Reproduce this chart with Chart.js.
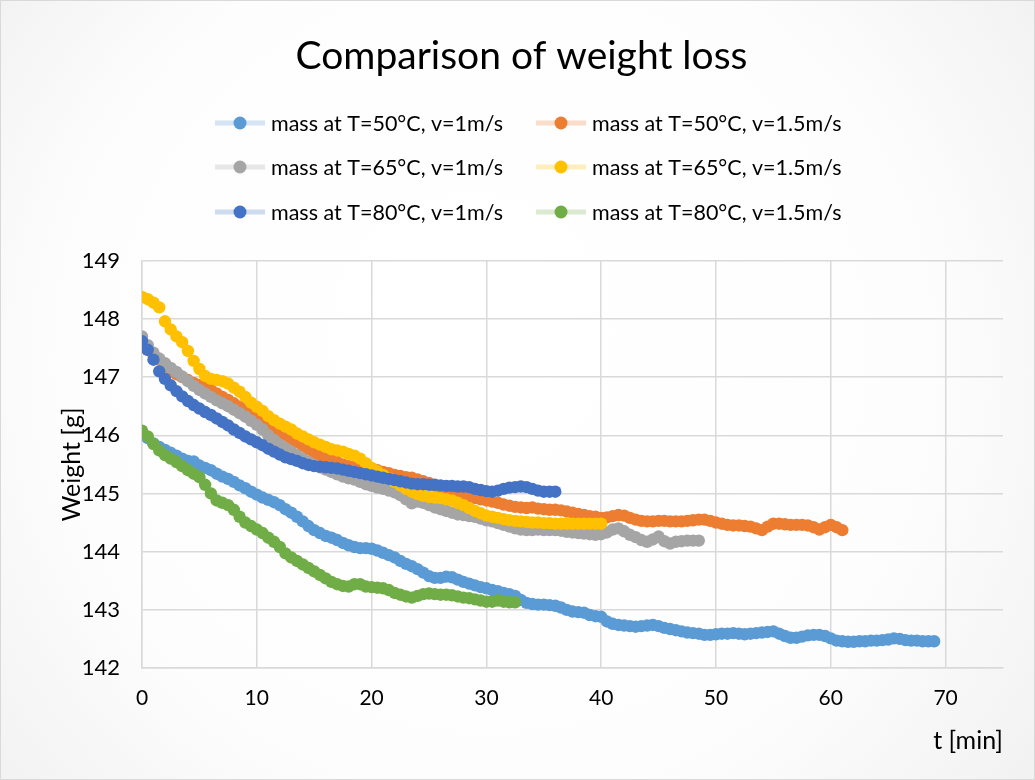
<!DOCTYPE html>
<html>
<head>
<meta charset="utf-8">
<title>Comparison of weight loss</title>
<script src="https://cdn.jsdelivr.net/npm/chart.js@4.4.1/dist/chart.umd.min.js"></script>
<style>
	html, body { margin: 0; padding: 0; background: #fff; }
	#wrap { width: 1035px; height: 780px; }
</style>
</head>
<body>
<div id="wrap"><canvas id="weightChart" width="1035" height="780"></canvas></div>
<script>
// balance read every 30 s -> one value per half minute, starting at t = 0
var step = 0.5;

var labels = [
	'mass at T=50°C, v=1m/s',
	'mass at T=50°C, v=1.5m/s',
	'mass at T=65°C, v=1m/s',
	'mass at T=65°C, v=1.5m/s',
	'mass at T=80°C, v=1m/s',
	'mass at T=80°C, v=1.5m/s'
];
var colors = ['#5B9BD5', '#ED7D31', '#A5A5A5', '#FFC000', '#4472C4', '#70AD47'];
var xTicks = [0, 10, 20, 30, 40, 50, 60, 70];
var yTicks = [142, 143, 144, 145, 146, 147, 148, 149];

// weights in g
var mass50v1 = [
	146.02, 145.95, 145.86, 145.80, 145.75, 145.70, 145.65, 145.60, 145.56, 145.55,
	145.48, 145.44, 145.40, 145.34, 145.29, 145.25, 145.20, 145.14, 145.09, 145.03,
	144.98, 144.93, 144.89, 144.85, 144.80, 144.73, 144.67, 144.60, 144.52, 144.44,
	144.37, 144.32, 144.27, 144.24, 144.20, 144.15, 144.11, 144.08, 144.06, 144.06,
	144.05, 144.02, 143.98, 143.94, 143.90, 143.84, 143.79, 143.75, 143.70, 143.64,
	143.58, 143.55, 143.55, 143.57, 143.56, 143.52, 143.48, 143.45, 143.42, 143.39,
	143.37, 143.34, 143.32, 143.29, 143.27, 143.24, 143.17, 143.12, 143.10, 143.09,
	143.09, 143.08, 143.07, 143.04, 143.00, 142.97, 142.96, 142.95, 142.91, 142.89,
	142.88, 142.80, 142.76, 142.74, 142.73, 142.72, 142.71, 142.72, 142.73, 142.74,
	142.72, 142.69, 142.67, 142.65, 142.63, 142.61, 142.60, 142.59, 142.57, 142.57,
	142.58, 142.59, 142.59, 142.60, 142.59, 142.58, 142.59, 142.60, 142.61, 142.62,
	142.63, 142.59, 142.55, 142.52, 142.52, 142.54, 142.56, 142.57, 142.57, 142.55,
	142.51, 142.47, 142.46, 142.45, 142.45, 142.46, 142.46, 142.47, 142.47, 142.48,
	142.49, 142.51, 142.50, 142.48, 142.47, 142.47, 142.46, 142.46, 142.46
];
var mass50v15 = [
	147.60, 147.47, 147.38, 147.30, 147.22, 147.13, 147.05, 147.00, 146.95, 146.90,
	146.86, 146.82, 146.78, 146.72, 146.66, 146.61, 146.55, 146.49, 146.44, 146.38,
	146.31, 146.24, 146.18, 146.12, 146.06, 146.00, 145.93, 145.88, 145.82, 145.76,
	145.70, 145.66, 145.62, 145.58, 145.54, 145.50, 145.47, 145.46, 145.45, 145.44,
	145.42, 145.40, 145.37, 145.35, 145.32, 145.30, 145.28, 145.27, 145.24, 145.21,
	145.18, 145.13, 145.09, 145.05, 145.03, 145.01, 144.98, 144.95, 144.92, 144.90,
	144.88, 144.86, 144.84, 144.81, 144.79, 144.77, 144.76, 144.75, 144.76, 144.74,
	144.73, 144.72, 144.72, 144.71, 144.69, 144.67, 144.65, 144.63, 144.61, 144.60,
	144.58, 144.59, 144.61, 144.63, 144.62, 144.58, 144.55, 144.53, 144.52, 144.52,
	144.53, 144.53, 144.52, 144.52, 144.52, 144.53, 144.54, 144.55, 144.55, 144.53,
	144.50, 144.48, 144.46, 144.45, 144.45, 144.44, 144.43, 144.40, 144.37, 144.43,
	144.48, 144.48, 144.47, 144.46, 144.46, 144.46, 144.45, 144.42, 144.38, 144.42,
	144.46, 144.42, 144.37
];
var mass65v1 = [
	147.70, 147.55, 147.42, 147.32, 147.24, 147.16, 147.09, 147.01, 146.93, 146.85,
	146.78, 146.72, 146.66, 146.60, 146.55, 146.50, 146.44, 146.38, 146.32, 146.25,
	146.18, 146.10, 146.00, 145.92, 145.84, 145.78, 145.72, 145.66, 145.60, 145.54,
	145.49, 145.45, 145.41, 145.37, 145.33, 145.29, 145.26, 145.24, 145.20, 145.16,
	145.13, 145.10, 145.08, 145.05, 145.02, 144.97, 144.90, 144.83, 144.86, 144.84,
	144.80, 144.76, 144.73, 144.70, 144.67, 144.64, 144.63, 144.61, 144.60, 144.57,
	144.54, 144.52, 144.49, 144.46, 144.43, 144.40, 144.38, 144.37, 144.37, 144.38,
	144.37, 144.37, 144.37, 144.36, 144.34, 144.33, 144.32, 144.31, 144.30, 144.29,
	144.30, 144.33, 144.38, 144.40, 144.35, 144.29, 144.25, 144.20, 144.17, 144.21,
	144.26, 144.18, 144.14, 144.17, 144.18, 144.19, 144.19, 144.19
];
var mass65v15 = [
	148.38, 148.34, 148.28, 148.20, 147.96, 147.82, 147.70, 147.60, 147.45, 147.28,
	147.14, 147.02, 146.97, 146.95, 146.93, 146.89, 146.82, 146.75, 146.66, 146.56,
	146.49, 146.42, 146.33, 146.26, 146.20, 146.15, 146.10, 146.03, 145.98, 145.93,
	145.88, 145.84, 145.80, 145.76, 145.74, 145.72, 145.68, 145.65, 145.60, 145.52,
	145.44, 145.38, 145.32, 145.26, 145.20, 145.14, 145.08, 145.03, 144.99, 144.96,
	144.94, 144.93, 144.92, 144.90, 144.88, 144.84, 144.80, 144.75, 144.70, 144.66,
	144.62, 144.60, 144.58, 144.56, 144.54, 144.53, 144.52, 144.51, 144.50, 144.50,
	144.49, 144.49, 144.48, 144.48, 144.48, 144.48, 144.48, 144.48, 144.48, 144.48,
	144.48
];
var mass80v1 = [
	147.62, 147.47, 147.30, 147.10, 146.97, 146.86, 146.76, 146.67, 146.59, 146.52,
	146.46, 146.40, 146.35, 146.29, 146.23, 146.17, 146.10, 146.04, 145.98, 145.93,
	145.88, 145.83, 145.77, 145.72, 145.67, 145.62, 145.59, 145.56, 145.52, 145.49,
	145.47, 145.46, 145.45, 145.44, 145.43, 145.41, 145.39, 145.37, 145.35, 145.33,
	145.31, 145.29, 145.27, 145.25, 145.23, 145.21, 145.19, 145.17, 145.16, 145.16,
	145.15, 145.15, 145.14, 145.13, 145.13, 145.12, 145.12, 145.11, 145.08, 145.06,
	145.04, 145.03, 145.05, 145.08, 145.10, 145.11, 145.12, 145.11, 145.08, 145.05,
	145.03, 145.03, 145.03
];
var mass80v15 = [
	146.08, 145.98, 145.85, 145.74, 145.66, 145.60, 145.54, 145.47, 145.40, 145.34,
	145.28, 145.15, 145.00, 144.88, 144.84, 144.80, 144.72, 144.60, 144.50, 144.44,
	144.38, 144.32, 144.24, 144.17, 144.08, 143.97, 143.90, 143.84, 143.78, 143.72,
	143.66, 143.60, 143.54, 143.48, 143.44, 143.41, 143.40, 143.44, 143.44, 143.40,
	143.39, 143.38, 143.37, 143.34, 143.29, 143.26, 143.23, 143.21, 143.24, 143.27,
	143.28, 143.27, 143.26, 143.26, 143.25, 143.23, 143.21, 143.20, 143.18, 143.16,
	143.14, 143.14, 143.16, 143.14, 143.13, 143.13
];

var FONT = 'Lato';

function toPoints(values) {
	var pts = [];
	for (var i in values) {
		pts.push({ x: i * step, y: values[i] });
	}
	return pts;
}

function fade(hex, a) {
	var n = parseInt(hex.slice(1), 16);
	return 'rgba(' + (n >> 16) + ',' + ((n >> 8) & 255) + ',' + (n & 255) + ',' + a + ')';
}

var allSeries = [mass50v1, mass50v15, mass65v1, mass65v15, mass80v1, mass80v15];
var datasets = [];
for (var s = 0; s < allSeries.length; s++) {
	datasets.push({
		label: labels[s],
		data: toPoints(allSeries[s]),
		backgroundColor: colors[s],
		borderColor: fade(colors[s], 0.25),
		showLine: false,
		pointRadius: 6.2,
		pointBorderWidth: 0,
		pointHoverRadius: 6.2,
		order: allSeries.length - s   // later series on top
	});
}

// soft grey vignette behind everything + thin frame
var chartBackground = {
	id: 'chartBackground',
	beforeDraw: function(chart) {
		var c = chart.ctx, w = chart.width, h = chart.height;
		var g = c.createRadialGradient(w * 0.45, h * 0.42, 60, w * 0.5, h * 0.5, w * 0.72);
		g.addColorStop(0, '#ffffff');
		g.addColorStop(0.55, '#fdfdfd');
		g.addColorStop(1, '#ededed');
		c.save();
		c.fillStyle = g;
		c.fillRect(0, 0, w, h);
		c.strokeStyle = '#d9d9d9';
		c.lineWidth = 1;
		c.strokeRect(0.5, 0.5, w - 1, h - 1);
		c.restore();
	}
};

// two-column legend: faint line with the marker on it
var legendCols = [215, 536];
var legendRows = [123, 167, 212];
var lineLegend = {
	id: 'lineLegend',
	afterDraw: function(chart) {
		var c = chart.ctx;
		chart.data.datasets.forEach(function(ds, i) {
			var x = legendCols[i % 2];
			var y = legendRows[Math.floor(i / 2)];
			c.save();
			c.strokeStyle = ds.borderColor;
			c.lineWidth = 5;
			c.beginPath();
			c.moveTo(x, y);
			c.lineTo(x + 50, y);
			c.stroke();
			c.fillStyle = ds.backgroundColor;
			c.beginPath();
			c.arc(x + 25, y, 6.5, 0, Math.PI * 2);
			c.fill();
			c.fillStyle = '#000';
			c.font = '21.5px ' + FONT;
			c.textBaseline = 'middle';
			c.fillText(ds.label, x + 56, y + 1);
			c.restore();
		});
	}
};

var ctx = document.getElementById('weightChart');

var scatter = new Chart(ctx, {
	type: 'scatter',
	data: { datasets: datasets },
	plugins: [chartBackground, lineLegend],
	options: {
		responsive: false,
		animation: false,
		layout: { padding: { left: 40, right: 32, top: 0, bottom: 24 } },
		plugins: {
			legend: { display: false },
			tooltip: { enabled: false },
			title: {
				display: true,
				text: 'Comparison of weight loss',
				color: '#000',
				font: { family: FONT, size: 39, weight: 'normal' },
				padding: { top: 33, bottom: 181 }
			}
		},
		scales: {
			x: {
				type: 'linear',
				min: 0,
				max: 75,
				afterBuildTicks: function(scale) {
					scale.ticks = xTicks.map(function(v) { return { value: v }; });
				},
				afterFit: function(scale) { scale.height = 88; },
				ticks: { color: '#000', font: { family: FONT, size: 21 }, padding: 18 },
				grid: { color: '#d9d9d9', lineWidth: 1.5, drawTicks: false },
				border: { color: '#d9d9d9', width: 1.5 },
				title: {
					display: true,
					text: 't [min]',
					align: 'end',
					color: '#000',
					font: { family: FONT, size: 25 },
					padding: { top: 10, bottom: 0 }
				}
			},
			y: {
				min: 142,
				max: 149,
				afterBuildTicks: function(scale) {
					scale.ticks = yTicks.map(function(v) { return { value: v }; });
				},
				afterFit: function(scale) { scale.width = 102; },
				ticks: { color: '#000', font: { family: FONT, size: 22 }, padding: 22 },
				grid: { color: '#d9d9d9', lineWidth: 1.5, drawTicks: false },
				border: { color: '#d9d9d9', width: 1.5 },
				title: {
					display: true,
					text: 'Weight [g]',
					color: '#000',
					font: { family: FONT, size: 25 },
					padding: { top: 17, bottom: 0 }
				}
			}
		}
	}
});
</script>
</body>
</html>
